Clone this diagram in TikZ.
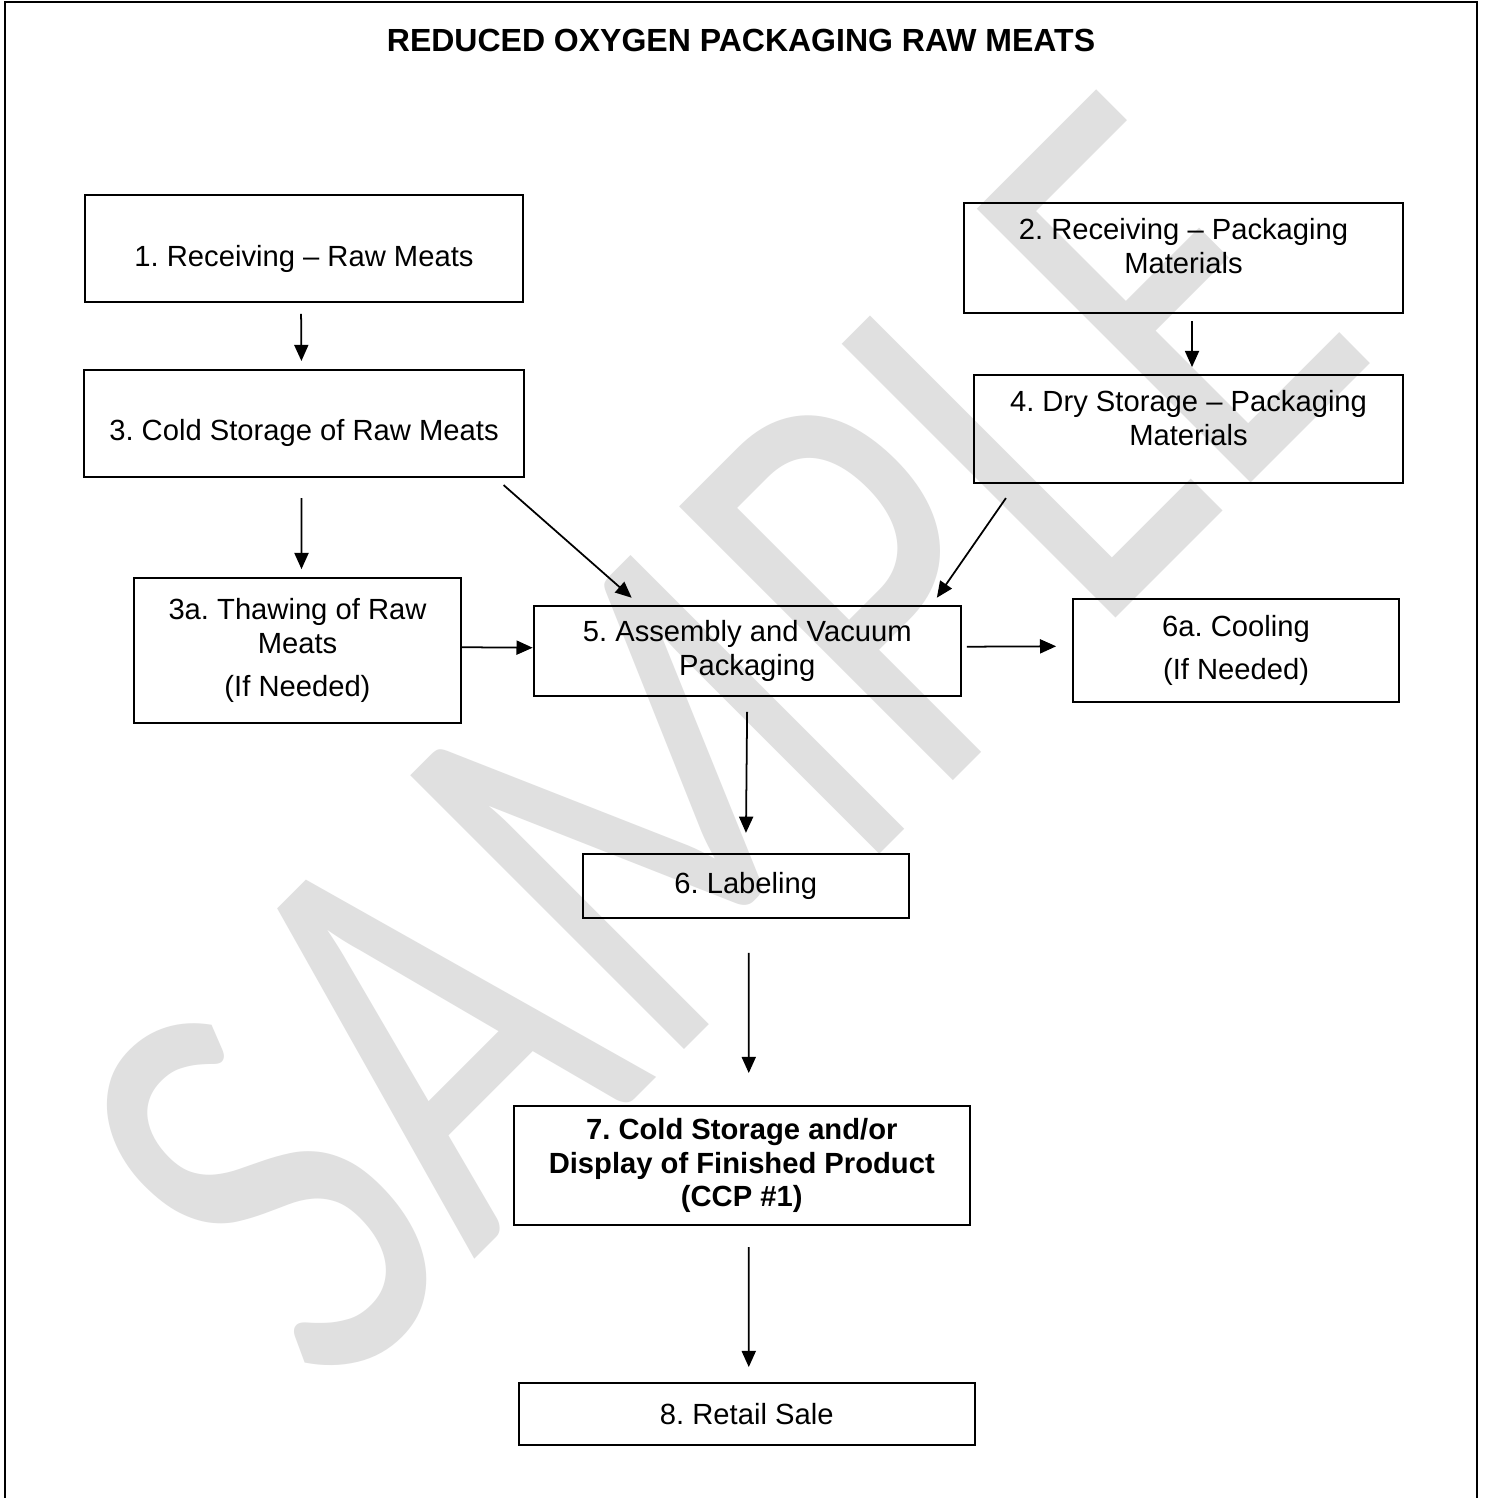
\documentclass[tikz,border=0pt]{standalone}
\usepackage{fontspec}
\setmainfont{Liberation Sans}
\newfontfamily\markfont{Carlito}
\usetikzlibrary{arrows.meta,calc}
\frenchspacing
\newcommand{\lift}[2]{\raisebox{#1}[\height][\depth]{\begin{tabular}{@{}c@{}}#2\end{tabular}}}

\begin{document}
\begin{tikzpicture}[
                    x=0.01cm,
                    y=-0.01cm,
                    box/.style={draw, line width=0.55pt, inner sep=0pt, align=center,
                                font=\fontsize{8.3}{9.6}\selectfont},
                    flow/.style={-{Triangle[length=4.6pt,width=4pt]}, line width=0.5pt}
                ]
                \useasboundingbox (0,0) rectangle (1484,1498);
                \fill[white] (0,0) rectangle (1484,1498);
                % watermark behind everything
                \node (mark) at (720,740) [rotate=45, xscale=0.97, yscale=1.3, text=black!12,
                                           font=\markfont\fontsize{132}{132}\selectfont] {SAMPLE};
                \draw[line width=0.75pt] (5,1498) -- (5,2) -- (1477,2) -- (1477,1498);
                \node (title) at (741,40) [font=\bfseries\fontsize{9.1}{11}\selectfont]
                      {REDUCED OXYGEN PACKAGING RAW MEATS};

                \node (n1)  [box, minimum width=4.38cm, minimum height=1.07cm] at (304,248.5)
                            {\lift{-3.25pt}{1. Receiving – Raw Meats}};
                \node (n3)  [box, below of=n1, node distance=1.75cm,
                             minimum width=4.39cm, minimum height=1.07cm]
                            {\lift{-2.75pt}{3. Cold Storage of Raw Meats}};
                \node (n3a) [box, below of=n3, node distance=2.27cm, xshift=-0.065cm,
                             minimum width=3.26cm, minimum height=1.45cm]
                            {3a. Thawing of Raw\\Meats\\[2.7pt](If Needed)};
                \node (n5)  [box, right of=n3a, node distance=4.495cm,
                             minimum width=4.27cm, minimum height=0.90cm]
                            {5. Assembly and Vacuum\\Packaging};
                \node (n6a) [box, right of=n5, node distance=4.885cm,
                             minimum width=3.26cm, minimum height=1.03cm]
                            {6a. Cooling\\[2.7pt](If Needed)};
                \node (n6)  [box, below of=n5, node distance=2.35cm, xshift=-0.015cm,
                             minimum width=3.26cm, minimum height=0.64cm]
                            {6. Labeling};
                \node (n7)  [box, below of=n6, node distance=2.795cm, xshift=-0.04cm,
                             minimum width=4.56cm, minimum height=1.19cm, font=\bfseries\fontsize{8.3}{9.6}\selectfont]
                            {7. Cold Storage and/or\\Display of Finished Product\\(CCP \#1)};
                \node (n8)  [box, below of=n7, node distance=2.485cm, xshift=0.05cm,
                             minimum width=4.56cm, minimum height=0.62cm]
                            {8. Retail Sale};
                \node (n2)  [box, minimum width=4.39cm, minimum height=1.10cm] at (1183.5,258)
                            {\lift{2.25pt}{2. Receiving – Packaging\\Materials}};
                \node (n4)  [box, below of=n2, node distance=1.71cm, xshift=0.05cm,
                             minimum width=4.29cm, minimum height=1.08cm]
                            {\lift{2pt}{4. Dry Storage – Packaging\\Materials}};

                \path[flow]
                ([xshift=-0.03cm]n1.south)   edge [shorten <=3.1pt, shorten >=2.3pt] ([xshift=-0.025cm]n3.north)
                ([xshift=0.085cm]n2.south)   edge [shorten <=2pt, shorten >=2pt]     ([xshift=0.035cm]n4.north)
                ([xshift=-0.025cm]n3.south)  edge [shorten <=5.7pt, shorten >=2.3pt] ([xshift=0.04cm]n3a.north)
                ($(n3.south east)+(-21,7)$)  edge                                    ($(n5.north west)+(99,-7)$)
                ($(n4.south west)+(33,14)$)  edge                                    ($(n5.north east)+(-25,-7)$)
                ([yshift=0.035cm]n3a.east)   edge                                    ([yshift=0.03cm]n5.west)
                ([yshift=0.04cm]n5.east)     edge [shorten <=1.4pt, shorten >=4.5pt] ([yshift=0.045cm]n6a.west)
                (n5.south)                   edge [shorten <=4.3pt, shorten >=5.7pt] (n6.north)
                ([xshift=0.03cm]n6.south)    edge [shorten <=9.7pt, shorten >=9.1pt] ([xshift=0.07cm]n7.north)
                ([xshift=0.07cm]n7.south)    edge [shorten <=6pt, shorten >=4.3pt]   ([xshift=0.02cm]n8.north)
                ;
\end{tikzpicture}
\end{document}
